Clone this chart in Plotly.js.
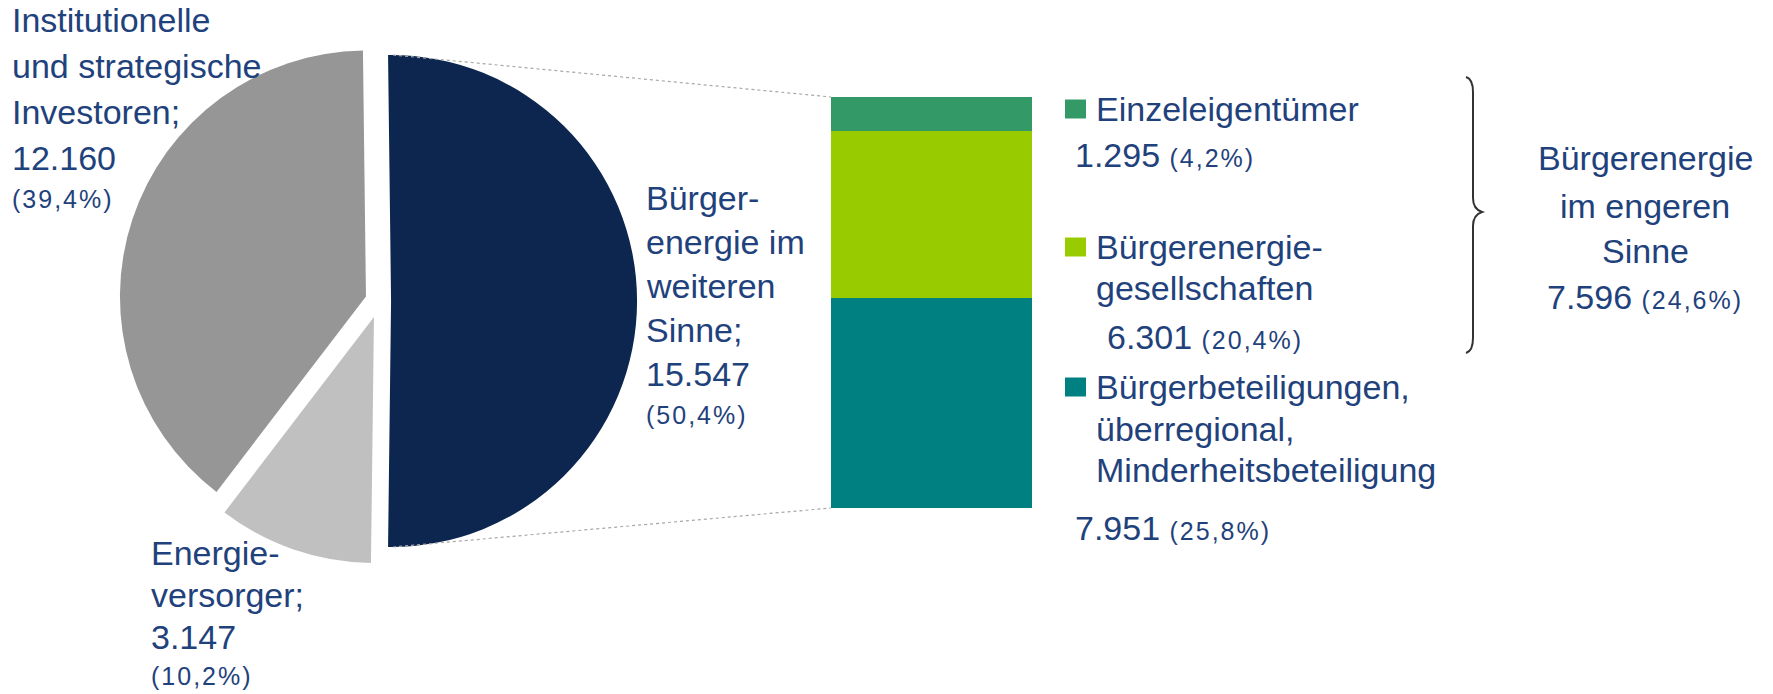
<!DOCTYPE html>
<html><head><meta charset="utf-8">
<script src="https://cdn.plot.ly/plotly-3.0.1.min.js"></script>
<style>html,body{margin:0;padding:0;background:#fff}#chart{width:1773px;height:694px}</style>
</head><body><div id="chart"></div>
<script>
// ---------- DATA ----------
const pieLabels = ['Bürgerenergie im weiteren Sinne', 'Energieversorger', 'Institutionelle und strategische Investoren'];
const pieLabelLines = [['Bürger-', 'energie im', 'weiteren', 'Sinne;'], ['Energie-', 'versorger;'], ['Institutionelle', 'und strategische', 'Investoren;']];
const pieValues = [15547, 3147, 12160];
const pieColors = ['#0C2650', '#C0C0C0', '#969696'];

const barLabels = ['Bürgerbeteiligungen, überregional, Minderheitsbeteiligung', 'Bürgerenergiegesellschaften', 'Einzeleigentümer'];
const barLabelLines = [['Bürgerbeteiligungen,', 'überregional,', 'Minderheitsbeteiligung'], ['Bürgerenergie-', 'gesellschaften'], ['Einzeleigentümer']];
const barValues = [7951, 6301, 1295];
const barColors = ['#008080', '#99CC00', '#339966'];

const narrowLines = ['Bürgerenergie', 'im engeren', 'Sinne'];
const narrowMembers = [1, 2];

// ---------- HELPERS ----------
const W = 1773, H = 694;
const px = x => x / W, py = y => 1 - y / H;
const total = pieValues.reduce((a, b) => a + b, 0);
const fmt = n => String(n).replace(/\B(?=(\d{3})+(?!\d))/g, '.');
const pct = v => '(' + (v / total * 100).toFixed(1).replace('.', ',') + '%)';
const TXT = '#1F427C', FONT = 'Liberation Sans, Arial, sans-serif';
const MAIN = 34, SMALL = 25;
const small = t => '<span style="font-size:' + SMALL + 'px;letter-spacing:2px">' + t + '</span>';

// ---------- LAYOUT GEOMETRY (pixels) ----------
const pie = {cx: 379.5, cy: 301, r: 246};
const piePull = [0.047, 0.069, 0.058];
const maxPull = Math.max(...piePull);
const half = pie.r * (1 + maxPull);
const bar = {x0: 831, x1: 1032, y0: 97, y1: 508};

const annotations = [];
function line(x, y, text, size, anchor) {
  annotations.push({xref: 'paper', yref: 'paper', x: px(x), y: py(y), text: text,
    showarrow: false, xanchor: anchor || 'left', yanchor: 'middle', borderpad: 0,
    font: {family: FONT, size: size || MAIN, color: TXT}});
}

// pie labels
const pieBlocks = [{x: 645, y: 198, step: 44, ps: 41}, {x: 150, y: 553, step: 42, ps: 39}, {x: 11, y: 20, step: 46, ps: 41}];
pieLabelLines.forEach((lines, i) => {
  const b = pieBlocks[i];
  let y = b.y;
  lines.forEach(t => { line(b.x, y, t); y += b.step; });
  line(b.x, y, fmt(pieValues[i])); y += b.ps;
  line(b.x, y, small(pct(pieValues[i])), SMALL);
});

// bar legend
const legBlocks = [{y: 387, step: 41.5, vx: 1074, vy: 528}, {y: 247, step: 41, vx: 1106, vy: 337}, {y: 109, step: 41, vx: 1074, vy: 155}];
const shapes = [];
barLabelLines.forEach((lines, i) => {
  const b = legBlocks[i];
  shapes.push({type: 'rect', xref: 'paper', yref: 'paper', x0: px(1065), x1: px(1086),
    y0: py(b.y - 9.5), y1: py(b.y + 9.5), fillcolor: barColors[i], line: {width: 0}});
  lines.forEach((t, k) => line(1095, b.y + k * b.step, t));
  line(b.vx, b.vy, fmt(barValues[i]) + ' ' + small(pct(barValues[i])));
});

// narrow-sense group
const narrowSum = narrowMembers.reduce((a, i) => a + barValues[i], 0);
[158, 206, 251].forEach((y, k) => line(1645, y, narrowLines[k], MAIN, 'center'));
line(1645, 297, fmt(narrowSum) + ' ' + small(pct(narrowSum)), MAIN, 'center');

// brace
const bp = (x, y) => px(x) + ',' + py(y);
shapes.push({type: 'path', xref: 'paper', yref: 'paper', line: {color: '#333333', width: 2},
  path: 'M' + bp(1466, 77) + ' Q' + bp(1473, 79) + ' ' + bp(1473, 92) + ' L' + bp(1473, 198) +
        ' Q' + bp(1473, 209) + ' ' + bp(1482, 212) + ' Q' + bp(1473, 215) + ' ' + bp(1473, 226) +
        ' L' + bp(1473, 338) + ' Q' + bp(1473, 351) + ' ' + bp(1466, 353)});

// connectors from the pulled navy half to the bar
const navyX = pie.cx + pie.r * piePull[0];
shapes.push({type: 'line', xref: 'paper', yref: 'paper', x0: px(navyX + 2), y0: py(pie.cy - pie.r), x1: px(bar.x0), y1: py(bar.y0),
  line: {color: '#a8a8a8', width: 1.2, dash: 'dot'}});
shapes.push({type: 'line', xref: 'paper', yref: 'paper', x0: px(navyX + 2), y0: py(pie.cy + pie.r), x1: px(bar.x0), y1: py(bar.y1),
  line: {color: '#a8a8a8', width: 1.2, dash: 'dot'}});

// ---------- TRACES ----------
const traces = [{
  type: 'pie', values: pieValues, labels: pieLabels, sort: false, direction: 'clockwise', rotation: -0.7,
  pull: piePull, textinfo: 'none', showlegend: false,
  marker: {colors: pieColors, line: {width: 0}},
  domain: {x: [px(pie.cx - half), px(pie.cx + half)], y: [py(pie.cy + half), py(pie.cy - half)]}
}];
barValues.forEach((v, i) => traces.push({
  type: 'bar', x: [0], y: [v], width: 1, name: barLabels[i], showlegend: false,
  marker: {color: barColors[i], line: {width: 0}}, xaxis: 'x', yaxis: 'y'
}));

const layout = {
  width: W, height: H, margin: {l: 0, r: 0, t: 0, b: 0, pad: 0},
  paper_bgcolor: '#ffffff', plot_bgcolor: 'rgba(0,0,0,0)', showlegend: false, barmode: 'stack', bargap: 0,
  xaxis: {domain: [px(bar.x0), px(bar.x1)], range: [-0.5, 0.5], visible: false, fixedrange: true},
  yaxis: {domain: [py(bar.y1), py(bar.y0)], range: [0, barValues.reduce((a, b) => a + b, 0)], visible: false, fixedrange: true},
  annotations: annotations, shapes: shapes
};
Plotly.newPlot('chart', traces, layout, {displayModeBar: false, staticPlot: true});
</script></body></html>
